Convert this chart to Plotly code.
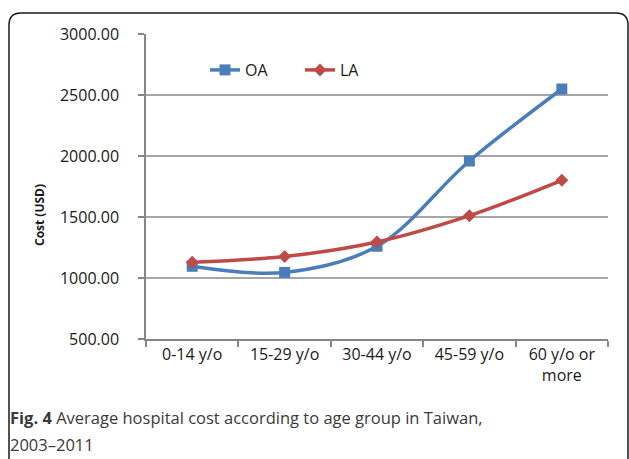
import plotly.graph_objects as go

categories = ["0-14 y/o", "15-29 y/o", "30-44 y/o", "45-59 y/o", "60 y/o or<br>more"]
oa_values = [1096, 1046, 1260, 1959, 2549]
la_values = [1130, 1176, 1295, 1511, 1801]
y_ticks = [500, 1000, 1500, 2000, 2500, 3000]
y_tick_labels = [f"{v:.2f}" for v in y_ticks]

W, H = 629, 459
L, R, T, B = 146, 21, 34, 120
pw, ph = W - L - R, H - T - B

def px(x):
    return (x - L) / pw

def py(y):
    return (H - B - y) / ph

fig = go.Figure()
fig.add_trace(go.Scatter(
    x=categories, y=oa_values, name="OA", mode="lines+markers",
    line=dict(color="#4a7ebb", width=3.5, shape="spline", smoothing=1),
    marker=dict(symbol="square", size=11, color="#4a7ebb"),
))
fig.add_trace(go.Scatter(
    x=categories, y=la_values, name="LA", mode="lines+markers",
    line=dict(color="#be4b48", width=3.5, shape="spline", smoothing=1),
    marker=dict(symbol="diamond", size=10, color="#be4b48"),
))

font = "Open Sans"
fig.update_layout(
    width=W, height=H,
    margin=dict(l=L, r=R, t=T, b=B),
    paper_bgcolor="white", plot_bgcolor="white",
    font=dict(family=font, size=16, color="#1a1a1a"),
    showlegend=True,
    legend=dict(orientation="h", x=px(205), y=py(70), xanchor="left", yanchor="middle",
                bgcolor="rgba(0,0,0,0)", font=dict(size=16), itemwidth=30,
                entrywidth=50, entrywidthmode="pixels"),
    xaxis=dict(
        type="category", tickson="boundaries", ticks="outside", ticklen=6,
        tickcolor="#868686", tickwidth=1.5,
        showline=True, linecolor="#868686", linewidth=1.5, showgrid=False,
        range=[-0.5, 4.5], tickfont=dict(size=16),
    ),
    yaxis=dict(
        range=[500, 3000], tickvals=y_ticks, ticktext=y_tick_labels,
        ticks="outside", ticklen=6, tickcolor="#868686", tickwidth=1.5,
        showline=True, linecolor="#868686", linewidth=1.5,
        showgrid=True, gridcolor="#a6a6a6", gridwidth=1.5, zeroline=False,
        tickfont=dict(size=16), ticklabelstandoff=16,
    ),
)

fig.add_annotation(
    text="<b>Cost (USD)</b>", textangle=-90, xref="paper", yref="paper",
    x=px(40), y=py(215), showarrow=False, font=dict(size=12, color="#1a1a1a"),
    xanchor="center", yanchor="middle",
)
fig.add_annotation(
    text="<b>Fig. 4</b> Average hospital cost according to age group in Taiwan,",
    xref="paper", yref="paper", x=px(8), y=py(418), xanchor="left", yanchor="middle",
    align="left", showarrow=False, font=dict(size=16.5, color="#3a3a3a"),
)
fig.add_annotation(
    text="2003–2011",
    xref="paper", yref="paper", x=px(8), y=py(444), xanchor="left", yanchor="middle",
    align="left", showarrow=False, font=dict(size=16.5, color="#3a3a3a"),
)

# rounded frame
x0, x1 = px(9), px(628)
y0, y1 = py(500), py(13)
rx, ry = 12 / pw, 12 / ph
path = (f"M {x0},{y0} L {x0},{y1 - ry} Q {x0},{y1} {x0 + rx},{y1} "
        f"L {x1 - rx},{y1} Q {x1},{y1} {x1},{y1 - ry} L {x1},{y0}")
fig.add_shape(type="path", path=path, xref="paper", yref="paper",
              line=dict(color="#1a1a1a", width=1.5), layer="below")

fig.write_html("out.html", config={"displayModeBar": False},
               post_script="document.body.style.margin='0';")
